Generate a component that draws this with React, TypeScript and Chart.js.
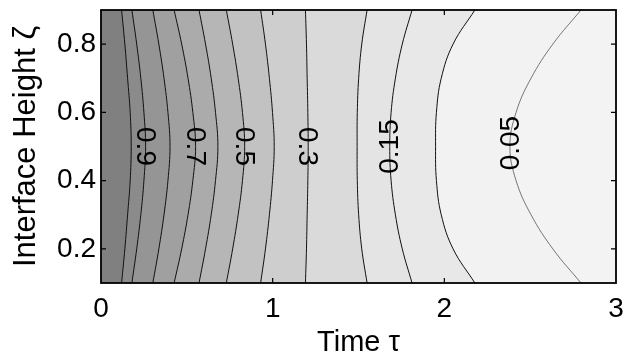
import React, { useEffect, useRef } from 'react';
import { Chart, registerables } from 'chart.js';
Chart.register(...registerables);

// Interface height ζ sample positions (shared by all contour lines)
const zeta = [0.1, 0.2, 0.3, 0.4, 0.5, 0.6, 0.7, 0.8, 0.9];

// Time τ of each contour line at the ζ positions above
const tau095 = [0.120, 0.139, 0.155, 0.170, 0.176, 0.170, 0.155, 0.139, 0.120];
const tau09 = [0.180, 0.208, 0.232, 0.250, 0.260, 0.250, 0.232, 0.208, 0.180];
const tau08 = [0.302, 0.337, 0.367, 0.390, 0.402, 0.390, 0.367, 0.337, 0.302];
const tau07 = [0.426, 0.470, 0.507, 0.535, 0.551, 0.535, 0.507, 0.470, 0.426];
const tau06 = [0.571, 0.609, 0.642, 0.667, 0.681, 0.667, 0.642, 0.609, 0.571];
const tau05 = [0.730, 0.767, 0.799, 0.824, 0.837, 0.824, 0.799, 0.767, 0.730];
const tau04 = [0.930, 0.958, 0.981, 0.999, 1.009, 0.999, 0.981, 0.958, 0.930];
const tau03 = [1.191, 1.197, 1.201, 1.205, 1.207, 1.205, 1.201, 1.197, 1.191];
const tau02 = [1.550, 1.519, 1.501, 1.493, 1.492, 1.493, 1.501, 1.519, 1.550];
const tau015 = [1.812, 1.755, 1.715, 1.690, 1.682, 1.690, 1.715, 1.755, 1.812];
const tau01 = [2.178, 2.051, 1.982, 1.954, 1.949, 1.954, 1.982, 2.051, 2.178];
const tau005 = [2.796, 2.632, 2.505, 2.418, 2.382, 2.418, 2.505, 2.632, 2.796];

// Contour levels, right-most first (drawing order)
const levels = [0.05, 0.1, 0.15, 0.2, 0.3, 0.4, 0.5, 0.6, 0.7, 0.8, 0.9, 0.95];
const levelTau = [tau005, tau01, tau015, tau02, tau03, tau04, tau05, tau06, tau07, tau08, tau09, tau095];

// Labelled contours
const labelLevels = [0.9, 0.7, 0.5, 0.3, 0.15, 0.05];
const labelTexts = ['0.9', '0.7', '0.5', '0.3', '0.15', '0.05'];
const labelZeta = [0.5, 0.5, 0.5, 0.5, 0.5, 0.51];

// Axis ticks
const xTicks = [0, 1, 2, 3];
const yTicks = [0.2, 0.4, 0.6, 0.8];
const tauMax = 3;

// Fill colour of the band to the right of each contour (same order as levels)
const bandColors = ['#f3f3f3', '#f2f2f2', '#e8e8e8', '#e4e4e4', '#dadada', '#cecece', '#c2c2c2', '#b6b6b6', '#ababab', '#a0a0a0', '#959595', '#8b8b8b'];
const leftBandColor = '#808080';

const FONT = '"Liberation Sans", Arial, Helvetica, sans-serif';

const framePlugin = {
  id: 'frame',
  beforeDraw(chart: any) {
    const { ctx, chartArea: a } = chart;
    ctx.save();
    ctx.fillStyle = leftBandColor;
    ctx.fillRect(a.left, a.top, a.right - a.left, a.bottom - a.top);
    ctx.restore();
  },
  afterDatasetsDraw(chart: any) {
    const { ctx, chartArea: a, scales } = chart;
    const xs = scales.x, ys = scales.y;
    ctx.save();
    // contour labels
    ctx.fillStyle = '#000';
    ctx.font = `28px ${FONT}`;
    ctx.textAlign = 'center';
    ctx.textBaseline = 'middle';
    labelLevels.forEach((lv, i) => {
      const di = levels.indexOf(lv);
      const zi = zeta.indexOf(0.5);
      const px = xs.getPixelForValue(levelTau[di][zi]);
      const py = ys.getPixelForValue(labelZeta[i]);
      ctx.save();
      ctx.translate(px, py);
      ctx.rotate(lv >= 0.3 ? Math.PI / 2 : -Math.PI / 2);
      ctx.fillText(labelTexts[i], 0, 1);
      ctx.restore();
    });
    // inward tick marks
    ctx.strokeStyle = '#000';
    ctx.lineWidth = 1.2;
    ctx.beginPath();
    xTicks.forEach((v) => {
      const px = xs.getPixelForValue(v);
      if (px <= a.left + 1 || px >= a.right - 1) return;
      ctx.moveTo(px, a.bottom); ctx.lineTo(px, a.bottom - 5);
      ctx.moveTo(px, a.top); ctx.lineTo(px, a.top + 5);
    });
    yTicks.forEach((v) => {
      const py = ys.getPixelForValue(v);
      ctx.moveTo(a.left, py); ctx.lineTo(a.left + 5, py);
      ctx.moveTo(a.right, py); ctx.lineTo(a.right - 5, py);
    });
    ctx.stroke();
    // frame
    ctx.lineWidth = 1.8;
    ctx.strokeRect(a.left, a.top, a.right - a.left, a.bottom - a.top);
    ctx.restore();
  },
};

export default function App() {
  const ref = useRef<HTMLCanvasElement>(null);
  useEffect(() => {
    if (!ref.current) return;
    const datasets = levels.map((lv, i) => ({
      label: String(lv),
      data: zeta.map((z, k) => ({ x: levelTau[i][k], y: z })),
      borderColor: lv === 0.05 ? '#555555' : '#111111',
      borderWidth: lv === 0.05 ? 0.8 : 1,
      backgroundColor: bandColors[i],
      fill: { value: tauMax },
      pointRadius: 0,
      tension: 0.4,
    }));
    const chart = new Chart(ref.current, {
      type: 'line',
      data: { datasets },
      options: {
        animation: false,
        responsive: false,
        indexAxis: 'y',
        layout: { padding: { left: 0, right: 9, top: 10, bottom: 0 } },
        plugins: { legend: { display: false }, tooltip: { enabled: false } },
        scales: {
          x: {
            type: 'linear',
            position: 'bottom',
            min: 0,
            max: tauMax,
            afterBuildTicks: (s: any) => { s.ticks = xTicks.map((v) => ({ value: v })); },
            afterFit: (s: any) => { s.height = 70; s.paddingLeft = 0; s.paddingRight = 0; },
            grid: { display: false, drawTicks: false },
            border: { display: false },
            ticks: { color: '#000', padding: 9, maxRotation: 0, font: { family: FONT, size: 28 }, callback: (v: any) => String(v) },
            title: { display: true, text: 'Time τ', color: '#000', font: { family: FONT, size: 29, lineHeight: 0.7 }, padding: 0 },
          },
          y: {
            type: 'linear',
            min: 0.1,
            max: 0.9,
            afterBuildTicks: (s: any) => { s.ticks = yTicks.map((v) => ({ value: v })); },
            afterFit: (s: any) => { s.width = 101; s.paddingTop = 0; s.paddingBottom = 0; },
            grid: { display: false, drawTicks: false },
            border: { display: false },
            ticks: { color: '#000', padding: 5, font: { family: FONT, size: 28 }, callback: (v: any) => Number(v).toFixed(1) },
            title: { display: true, text: 'Interface Height ζ', color: '#000', font: { family: FONT, size: 31, lineHeight: 1.2 }, padding: { top: 8, bottom: 0 } },
          },
        },
      },
      plugins: [framePlugin],
    } as any);
    return () => chart.destroy();
  }, []);
  return (
    <div style={{ position: 'absolute', left: 0, top: 0, width: 625, height: 353, background: '#fff' }}>
      <canvas ref={ref} width={625} height={353} />
    </div>
  );
}
